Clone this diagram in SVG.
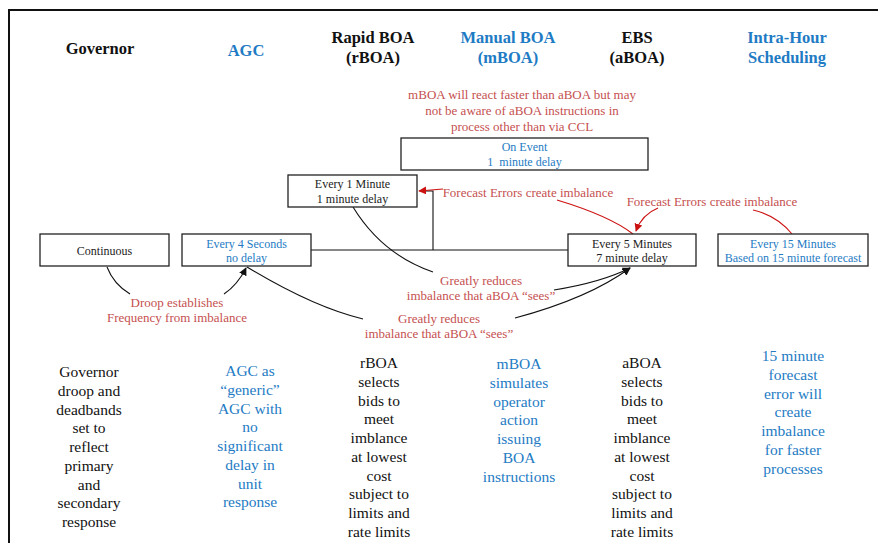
<svg xmlns="http://www.w3.org/2000/svg" width="878" height="543" viewBox="0 0 878 543">
<style>
text{font-family:"Liberation Serif","Times New Roman",serif;text-anchor:middle}
.h{font-size:16.5px;font-weight:bold;fill:#111}
.hb{font-size:16.5px;font-weight:bold;fill:#1e7bc4}
.bx{fill:#fff;stroke:#222;stroke-width:1.3}
.bt{font-size:12px;fill:#222}
.btb{font-size:12px;fill:#1e7bc4}
.an{font-size:13px;fill:#c5504f}
.col{font-size:15.5px;fill:#111}
.colb{font-size:15.5px;fill:#1e7bc4}
.k{fill:none;stroke:#111;stroke-width:1.1}
.r{fill:none;stroke:#cc1111;stroke-width:1.1}
</style>
<defs>
<marker id="ak" viewBox="0 0 10 10" refX="9" refY="5" markerWidth="8" markerHeight="8" markerUnits="userSpaceOnUse" orient="auto"><path d="M0,0L10,5L0,10z" fill="#111"/></marker>
<marker id="ar" viewBox="0 0 10 10" refX="9" refY="5" markerWidth="8" markerHeight="8" markerUnits="userSpaceOnUse" orient="auto"><path d="M0,0L10,5L0,10z" fill="#cc1111"/></marker>
</defs>
<rect width="878" height="543" fill="#fff"/>
<path d="M9,543V10H878" fill="none" stroke="#111" stroke-width="2"/>
<g id="headers">
<text class="h" x="100" y="54">Governor</text>
<text class="hb" x="246" y="56">AGC</text>
<text class="h" x="373" y="43">Rapid BOA</text>
<text class="h" x="373" y="63">(rBOA)</text>
<text class="hb" x="508" y="43">Manual BOA</text>
<text class="hb" x="508" y="63">(mBOA)</text>
<text class="h" x="637" y="43">EBS</text>
<text class="h" x="637" y="63">(aBOA)</text>
<text class="hb" x="787" y="43">Intra-Hour</text>
<text class="hb" x="787" y="63">Scheduling</text>
</g>
<g id="note-top">
<text class="an" x="522" y="99">mBOA will react faster than aBOA but may</text>
<text class="an" x="522" y="115">not be aware of aBOA instructions in</text>
<text class="an" x="522" y="131">process other than via CCL</text>
</g>
<g id="connectors">
<path class="k" d="M311,250H568M433,250V191H426"/>
<path class="r" d="M443,189L419,191" marker-end="url(#ar)"/>
<path class="r" d="M557,200C590,210 615,220 633,234"/>
<path class="r" d="M658,208C648,212 640,220 636,231" marker-end="url(#ar)"/>
<path class="r" d="M792,234C782,222 770,214 753,210"/>
<path class="k" d="M353,207C372,238 398,260 433,272"/>
<path class="k" d="M554,290C585,285 610,278 630,268" marker-end="url(#ak)"/>
<path class="k" d="M247,267C285,290 325,310 363,319"/>
<path class="k" d="M515,318C560,306 600,290 630,268" marker-end="url(#ak)"/>
<path class="k" d="M107,267C112,280 120,288 130,294"/>
<path class="k" d="M224,294C233,288 240,280 246,268" marker-end="url(#ak)"/>
</g>
<g id="n-onevent">
<rect class="bx" x="401" y="138" width="247" height="32"/>
<text class="btb" x="524.5" y="151">On Event</text>
<text class="btb" x="524.5" y="166">1&#160; minute delay</text>
</g>
<g id="n-1min">
<rect class="bx" x="288" y="175" width="129" height="32"/>
<text class="bt" x="352.5" y="188">Every 1 Minute</text>
<text class="bt" x="352.5" y="203">1 minute delay</text>
</g>
<g id="n-continuous">
<rect class="bx" x="40" y="234" width="129" height="32"/>
<text class="bt" x="104.5" y="255">Continuous</text>
</g>
<g id="n-4sec">
<rect class="bx" x="182" y="234" width="129" height="32"/>
<text class="btb" x="246.5" y="248">Every 4 Seconds</text>
<text class="btb" x="246.5" y="262">no delay</text>
</g>
<g id="n-5min">
<rect class="bx" x="568" y="234" width="128" height="32"/>
<text class="bt" x="632" y="248">Every 5 Minutes</text>
<text class="bt" x="632" y="262">7 minute delay</text>
</g>
<g id="n-15min">
<rect class="bx" x="718" y="234" width="150" height="32"/>
<text class="btb" x="793" y="248">Every 15 Minutes</text>
<text class="btb" x="793" y="262">Based on 15 minute forecast</text>
</g>
<g id="labels">
<text class="an" x="528" y="197">Forecast Errors create imbalance</text>
<text class="an" x="712" y="206">Forecast Errors create imbalance</text>
<text class="an" x="481" y="285">Greatly reduces</text>
<text class="an" x="481" y="300">imbalance that aBOA “sees”</text>
<text class="an" x="439" y="323">Greatly reduces</text>
<text class="an" x="439" y="338">imbalance that aBOA “sees”</text>
<text class="an" x="177" y="307">Droop establishes</text>
<text class="an" x="177" y="322">Frequency from imbalance</text>
</g>
<g id="col-governor">
<text class="col" x="89" y="377">Governor</text>
<text class="col" x="89" y="395.8">droop and</text>
<text class="col" x="89" y="414.5">deadbands</text>
<text class="col" x="89" y="433.3">set to</text>
<text class="col" x="89" y="452">reflect</text>
<text class="col" x="89" y="470.8">primary</text>
<text class="col" x="89" y="489.5">and</text>
<text class="col" x="89" y="508.3">secondary</text>
<text class="col" x="89" y="527">response</text>
</g>
<g id="col-agc">
<text class="colb" x="250" y="376">AGC as</text>
<text class="colb" x="250" y="394.8">“generic”</text>
<text class="colb" x="250" y="413.5">AGC with</text>
<text class="colb" x="250" y="432.3">no</text>
<text class="colb" x="250" y="451">significant</text>
<text class="colb" x="250" y="469.8">delay in</text>
<text class="colb" x="250" y="488.5">unit</text>
<text class="colb" x="250" y="507.3">response</text>
</g>
<g id="col-rboa">
<text class="col" x="379" y="368">rBOA</text>
<text class="col" x="379" y="386.8">selects</text>
<text class="col" x="379" y="405.5">bids to</text>
<text class="col" x="379" y="424.3">meet</text>
<text class="col" x="379" y="443">imblance</text>
<text class="col" x="379" y="461.8">at lowest</text>
<text class="col" x="379" y="480.5">cost</text>
<text class="col" x="379" y="499.3">subject to</text>
<text class="col" x="379" y="518">limits and</text>
<text class="col" x="379" y="536.8">rate limits</text>
</g>
<g id="col-mboa">
<text class="colb" x="519" y="369">mBOA</text>
<text class="colb" x="519" y="387.8">simulates</text>
<text class="colb" x="519" y="406.5">operator</text>
<text class="colb" x="519" y="425.3">action</text>
<text class="colb" x="519" y="444">issuing</text>
<text class="colb" x="519" y="462.8">BOA</text>
<text class="colb" x="519" y="481.5">instructions</text>
</g>
<g id="col-aboa">
<text class="col" x="642" y="368">aBOA</text>
<text class="col" x="642" y="386.8">selects</text>
<text class="col" x="642" y="405.5">bids to</text>
<text class="col" x="642" y="424.3">meet</text>
<text class="col" x="642" y="443">imblance</text>
<text class="col" x="642" y="461.8">at lowest</text>
<text class="col" x="642" y="480.5">cost</text>
<text class="col" x="642" y="499.3">subject to</text>
<text class="col" x="642" y="518">limits and</text>
<text class="col" x="642" y="536.8">rate limits</text>
</g>
<g id="col-intrahour">
<text class="colb" x="793" y="361">15 minute</text>
<text class="colb" x="793" y="379.8">forecast</text>
<text class="colb" x="793" y="398.5">error will</text>
<text class="colb" x="793" y="417.3">create</text>
<text class="colb" x="793" y="436">imbalance</text>
<text class="colb" x="793" y="454.8">for faster</text>
<text class="colb" x="793" y="473.5">processes</text>
</g>
</svg>
